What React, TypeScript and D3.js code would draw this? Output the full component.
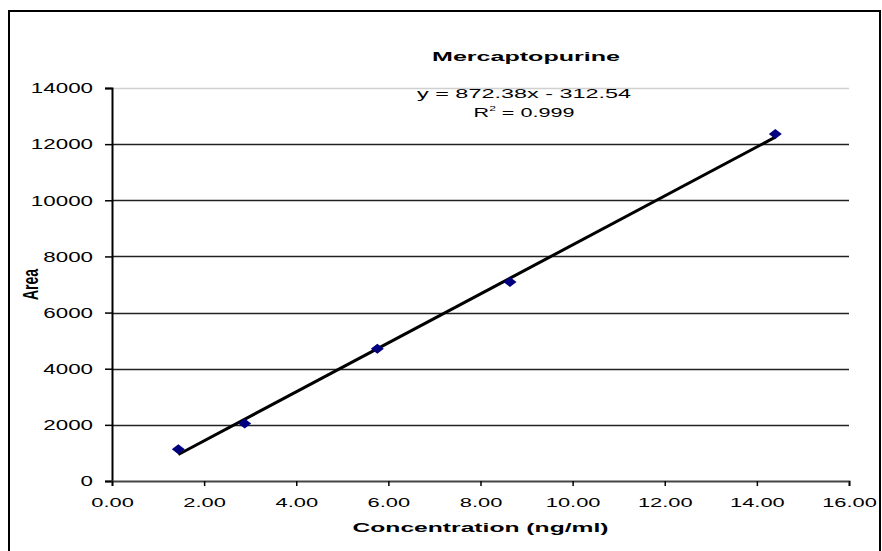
import React, { useEffect, useRef } from 'react';
import * as d3 from 'd3';

// Calibration data
const concentrations = [1.44, 2.88, 5.76, 8.64, 14.4];
const areas = [1130, 2050, 4710, 7090, 12360];

const slope = 872.38;
const intercept = -312.54;

const xTicks = [0, 2, 4, 6, 8, 10, 12, 14, 16];
const yTicks = [0, 2000, 4000, 6000, 8000, 10000, 12000, 14000];

const WIDTH = 882;
const HEIGHT = 551;
const FONT = "'Liberation Sans', Arial, sans-serif";

// the reference picture is stretched sideways, so text is widened to match
const stretch = (sel: d3.Selection<any, any, any, any>, sx: number) => {
  sel.each(function () {
    const el = this as SVGTextElement;
    const len = el.getComputedTextLength();
    d3.select(el).attr('textLength', len * sx).attr('lengthAdjust', 'spacingAndGlyphs');
  });
};

const App: React.FC = () => {
  const svgRef = useRef<SVGSVGElement>(null);

  useEffect(() => {
    if (!svgRef.current) return;
    const svg = d3.select(svgRef.current);
    svg.selectAll('*').remove();

    const margin = { top: 88, right: 33, bottom: 70, left: 112 };
    const plotRight = WIDTH - margin.right;
    const plotBottom = HEIGHT - margin.bottom;

    const x = d3.scaleLinear().domain([0, 16]).range([margin.left, plotRight]);
    const y = d3.scaleLinear().domain([0, 14000]).range([plotBottom, margin.top]);

    const points = concentrations.map((c, i) => ({ c, a: areas[i] }));

    // Outer chart border
    svg.append('rect')
      .attr('x', 9)
      .attr('y', 11)
      .attr('width', 871)
      .attr('height', 560)
      .attr('fill', 'white')
      .attr('stroke', '#000')
      .attr('stroke-width', 2);

    // Grid lines
    svg.append('g')
      .selectAll('line')
      .data(yTicks.filter(t => t > 0))
      .enter()
      .append('line')
      .attr('x1', margin.left)
      .attr('x2', plotRight)
      .attr('y1', d => Math.round(y(d)) + 0.5)
      .attr('y2', d => Math.round(y(d)) + 0.5)
      .attr('stroke', d => (d === 14000 ? '#d0d0d0' : '#222'))
      .attr('stroke-width', 1.3);

    // Y axis
    const yAxis = svg.append('g')
      .attr('transform', `translate(${margin.left},0)`)
      .call(d3.axisLeft(y).tickValues(yTicks).tickSize(7).tickPadding(12).tickFormat(d3.format('d')));
    yAxis.select('.domain').attr('stroke', '#000').attr('stroke-width', 2);
    yAxis.selectAll('.tick line').attr('stroke', '#000').attr('stroke-width', 1.5);
    const yLabels = yAxis.selectAll('.tick text')
      .attr('fill', '#000')
      .attr('font-family', FONT)
      .attr('font-size', 15);
    stretch(yLabels, 1.49);

    // X axis
    const xAxis = svg.append('g')
      .attr('transform', `translate(0,${plotBottom})`)
      .call(d3.axisBottom(x).tickValues(xTicks).tickSize(5).tickPadding(11).tickFormat(d3.format('.2f')));
    xAxis.select('.domain').attr('stroke', '#444').attr('stroke-width', 2);
    xAxis.selectAll('.tick line').attr('stroke', '#000').attr('stroke-width', 1.5);
    const xLabels = xAxis.selectAll('.tick text')
      .attr('fill', '#000')
      .attr('font-family', FONT)
      .attr('font-size', 13.5);
    stretch(xLabels, 1.62);

    // Trend line over the data range
    const xMin = d3.min(concentrations) as number;
    const xMax = d3.max(concentrations) as number;
    const line = d3.line<number>()
      .x(d => x(d))
      .y(d => y(slope * d + intercept));
    svg.append('path')
      .datum([xMin, xMax])
      .attr('fill', 'none')
      .attr('stroke', '#000')
      .attr('stroke-width', 3)
      .attr('d', line);

    // Diamond markers
    svg.selectAll('.dot')
      .data(points)
      .enter()
      .append('path')
      .attr('class', 'dot')
      .attr('transform', d => `translate(${x(d.c)},${y(d.a)})`)
      .attr('d', 'M0,-5L6.5,0L0,5L-6.5,0Z')
      .attr('fill', '#000080');

    // Title
    svg.append('text')
      .attr('x', 526)
      .attr('y', 61)
      .attr('text-anchor', 'middle')
      .attr('font-family', FONT)
      .attr('font-size', 13)
      .attr('font-weight', 'bold')
      .attr('textLength', 188)
      .attr('lengthAdjust', 'spacingAndGlyphs')
      .text('Mercaptopurine');

    // Trendline equation
    svg.append('text')
      .attr('x', 524)
      .attr('y', 98)
      .attr('text-anchor', 'middle')
      .attr('font-family', FONT)
      .attr('font-size', 13.5)
      .attr('textLength', 214)
      .attr('lengthAdjust', 'spacingAndGlyphs')
      .text(`y = ${slope}x - ${Math.abs(intercept)}`);

    const r2 = svg.append('text')
      .attr('transform', 'translate(524,117) scale(1.6,1)')
      .attr('text-anchor', 'middle')
      .attr('font-family', FONT)
      .attr('font-size', 13.5);
    r2.append('tspan').text('R');
    r2.append('tspan').attr('font-size', 7.5).attr('dy', -6).text('2');
    r2.append('tspan').attr('dy', 6).text(' = 0.999');

    // Axis titles
    svg.append('text')
      .attr('x', (margin.left + plotRight) / 2)
      .attr('y', 532)
      .attr('text-anchor', 'middle')
      .attr('font-family', FONT)
      .attr('font-size', 13)
      .attr('font-weight', 'bold')
      .attr('textLength', 256)
      .attr('lengthAdjust', 'spacingAndGlyphs')
      .text('Concentration (ng/ml)');

    svg.append('text')
      .attr('transform', `translate(38,${(margin.top + plotBottom) / 2}) scale(1.6,1) rotate(-90)`)
      .attr('text-anchor', 'middle')
      .attr('font-family', FONT)
      .attr('font-size', 14)
      .attr('font-weight', 'bold')
      .text('Area');
  }, []);

  return (
    <svg
      ref={svgRef}
      width={WIDTH}
      height={HEIGHT}
      style={{ position: 'absolute', left: 0, top: 0, background: 'white' }}
    />
  );
};

export default App;
